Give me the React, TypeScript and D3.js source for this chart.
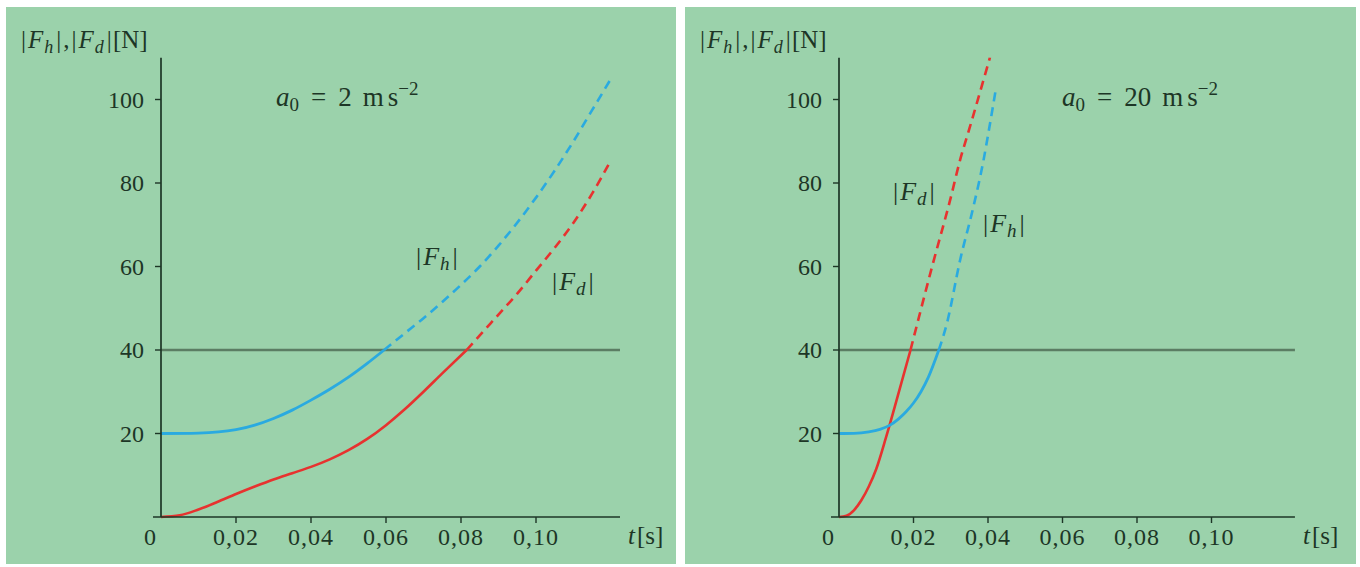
import React from "react";
import * as d3 from "d3";

// ---- data ----
const xTicks = [0.02, 0.04, 0.06, 0.08, 0.1];
const xTickLabels = ["0,02", "0,04", "0,06", "0,08", "0,10"];
const yTicks = [20, 40, 60, 80, 100];
const threshold = 40;

// left panel (a0 = 2 m s^-2)
const leftHT = [0, 0.01, 0.02, 0.025, 0.03, 0.035, 0.04, 0.045, 0.05, 0.055, 0.0595, 0.065, 0.07, 0.075, 0.08, 0.085, 0.09, 0.095, 0.1, 0.105, 0.11, 0.115, 0.12];
const leftHV = [20, 20.1, 20.9, 22, 23.6, 25.6, 28, 30.6, 33.5, 36.8, 40, 44, 47.6, 51.5, 55.6, 60, 65, 70.5, 76.5, 83, 90, 97.5, 105];
const leftDT = [0, 0.005, 0.01, 0.015, 0.02, 0.025, 0.03, 0.035, 0.04, 0.045, 0.05, 0.055, 0.06, 0.065, 0.07, 0.075, 0.0815, 0.085, 0.09, 0.095, 0.1, 0.105, 0.11, 0.115, 0.12];
const leftDV = [0, 0.4, 1.8, 3.6, 5.5, 7.3, 9, 10.5, 12, 13.8, 16, 18.7, 22, 25.8, 30, 34.4, 40, 43.5, 48.5, 53.5, 59, 64.5, 70.5, 77.5, 85.5];
const leftHSplit = 0.0595;
const leftDSplit = 0.0815;

// right panel (a0 = 20 m s^-2)
const rightHT = [0, 0.004, 0.008, 0.011, 0.0137, 0.016, 0.018, 0.02, 0.022, 0.024, 0.0268, 0.029, 0.0325, 0.036, 0.0387, 0.0405, 0.0422];
const rightHV = [20, 20.05, 20.4, 21, 22, 23.5, 25.2, 27.3, 30, 33.5, 40, 46.5, 61.5, 74, 85, 94, 103];
const rightDT = [0, 0.002, 0.004, 0.006, 0.008, 0.01, 0.0126, 0.015, 0.0192, 0.025, 0.03, 0.0325, 0.035, 0.0405];
const rightDV = [0, 0.3, 1.6, 4, 7.3, 11.5, 19, 26.5, 40, 60, 76.5, 85.5, 93, 110];
const rightHSplit = 0.0268;
const rightDSplit = 0.0192;

const BG = "#9bd2ab";
const BLUE = "#2aaae0";
const RED = "#e7322f";
const INK = "#1d3626";
const FONT = "'Liberation Serif', 'Times New Roman', serif";

type PanelProps = {
  px: number;
  pw: number;
  x0: number;
  pxPerUnit: number;
  hT: number[];
  hV: number[];
  dT: number[];
  dV: number[];
  hSplit: number;
  dSplit: number;
  aLabel: string;
  aX: number;
  hLabel: [number, number];
  dLabel: [number, number];
};

function AbsLabel({ x, y, sub }: { x: number; y: number; sub: string }) {
  return (
    <text x={x} y={y} fontFamily={FONT} fontSize={26} fill={INK}>
      |<tspan fontStyle="italic" dx={2}>F</tspan>
      <tspan fontStyle="italic" fontSize={19} dy={5} dx={1}>{sub}</tspan>
      <tspan dy={-5} dx={3}>|</tspan>
    </text>
  );
}

function Panel(p: PanelProps) {
  const x = d3.scaleLinear().domain([0, 0.12]).range([p.x0, p.x0 + 0.12 * p.pxPerUnit]);
  const y = d3.scaleLinear().domain([0, 100]).range([517, 99.5]);
  const line = d3
    .line<[number, number]>()
    .x((d) => x(d[0]))
    .y((d) => y(d[1]))
    .curve(d3.curveMonotoneX);
  const pts = (T: number[], V: number[]) => T.map((t, i) => [t, V[i]] as [number, number]);
  const h = pts(p.hT, p.hV);
  const dd = pts(p.dT, p.dV);
  const hSolid = h.filter((q) => q[0] <= p.hSplit);
  const hDash = h.filter((q) => q[0] >= p.hSplit);
  const dSolid = dd.filter((q) => q[0] <= p.dSplit);
  const dDash = dd.filter((q) => q[0] >= p.dSplit);
  const xEnd = x(0.1224);
  const yTop = y(110);
  return (
    <g>
      <rect x={p.px} y={7} width={p.pw} height={557} fill={BG} />
      {/* threshold line */}
      <line x1={x(0)} x2={xEnd} y1={y(threshold)} y2={y(threshold)} stroke="#5b7d63" strokeWidth={2.4} />
      {/* curves */}
      <path d={line(dSolid) || ""} fill="none" stroke={RED} strokeWidth={2.6} />
      <path d={line(dDash) || ""} fill="none" stroke={RED} strokeWidth={2.6} strokeDasharray="9,6" />
      <path d={line(hSolid) || ""} fill="none" stroke={BLUE} strokeWidth={2.8} />
      <path d={line(hDash) || ""} fill="none" stroke={BLUE} strokeWidth={2.6} strokeDasharray="9,6" />
      {/* axes */}
      <line x1={x(0)} x2={x(0)} y1={y(0)} y2={yTop} stroke={INK} strokeWidth={1.7} />
      <line x1={x(0) - 8} x2={xEnd} y1={y(0)} y2={y(0)} stroke={INK} strokeWidth={1.7} />
      {yTicks.map((v) => (
        <g key={"y" + v}>
          <line x1={x(0) - 6} x2={x(0)} y1={y(v)} y2={y(v)} stroke={INK} strokeWidth={1.4} />
          <text x={x(0) - 17} y={y(v) + 8} textAnchor="end" fontFamily={FONT} fontSize={24} fill={INK}>
            {v}
          </text>
        </g>
      ))}
      {xTicks.map((v, i) => (
        <g key={"x" + v}>
          <line x1={x(v)} x2={x(v)} y1={y(0)} y2={y(0) + 6} stroke={INK} strokeWidth={1.4} />
          <text x={x(v)} y={545} textAnchor="middle" fontFamily={FONT} fontSize={24} letterSpacing={1} fill={INK}>
            {xTickLabels[i]}
          </text>
        </g>
      ))}
      <text x={x(0) - 11} y={545} textAnchor="middle" fontFamily={FONT} fontSize={24} fill={INK}>
        0
      </text>
      <text x={xEnd + 8} y={544} fontFamily={FONT} fontSize={25} fill={INK}>
        <tspan fontStyle="italic">t</tspan>
        <tspan dx={2}>[s]</tspan>
      </text>
      {/* y title */}
      <text x={p.px + 15} y={48} fontFamily={FONT} fontSize={25} fill={INK}>
        |<tspan fontStyle="italic" dx={2}>F</tspan>
        <tspan fontStyle="italic" fontSize={18} dy={5} dx={1}>h</tspan>
        <tspan dy={-5} dx={3}>|</tspan>
        <tspan dx={2}>,</tspan>
        <tspan dx={2}>|</tspan>
        <tspan fontStyle="italic" dx={2}>F</tspan>
        <tspan fontStyle="italic" fontSize={18} dy={5} dx={1}>d</tspan>
        <tspan dy={-5} dx={3}>|</tspan>
        <tspan dx={1}>[N]</tspan>
      </text>
      {/* a0 label */}
      <text x={p.aX} y={106} fontFamily={FONT} fontSize={27} fill={INK}>
        <tspan fontStyle="italic">a</tspan>
        <tspan fontSize={19} dy={5}>0</tspan>
        <tspan dy={-5} dx={12}>=</tspan>
        <tspan dx={12}>{p.aLabel}</tspan>
        <tspan dx={11}>m</tspan>
        <tspan dx={4}>s</tspan>
        <tspan fontSize={19} dy={-11}>−2</tspan>
      </text>
      <AbsLabel x={p.hLabel[0]} y={p.hLabel[1]} sub="h" />
      <AbsLabel x={p.dLabel[0]} y={p.dLabel[1]} sub="d" />
    </g>
  );
}

export default function App() {
  return (
    <div style={{ position: "absolute", left: 0, top: 0 }}>
      <svg width={1360} height={567} style={{ display: "block", background: "#ffffff" }}>
        <Panel
          px={6}
          pw={670}
          x0={161}
          pxPerUnit={3750}
          hT={leftHT}
          hV={leftHV}
          dT={leftDT}
          dV={leftDV}
          hSplit={leftHSplit}
          dSplit={leftDSplit}
          aLabel="2"
          aX={276}
          hLabel={[416, 265]}
          dLabel={[552, 290]}
        />
        <Panel
          px={685}
          pw={671}
          x0={839}
          pxPerUnit={3725}
          hT={rightHT}
          hV={rightHV}
          dT={rightDT}
          dV={rightDV}
          hSplit={rightHSplit}
          dSplit={rightDSplit}
          aLabel="20"
          aX={1062}
          hLabel={[983, 232]}
          dLabel={[893, 200]}
        />
      </svg>
    </div>
  );
}
